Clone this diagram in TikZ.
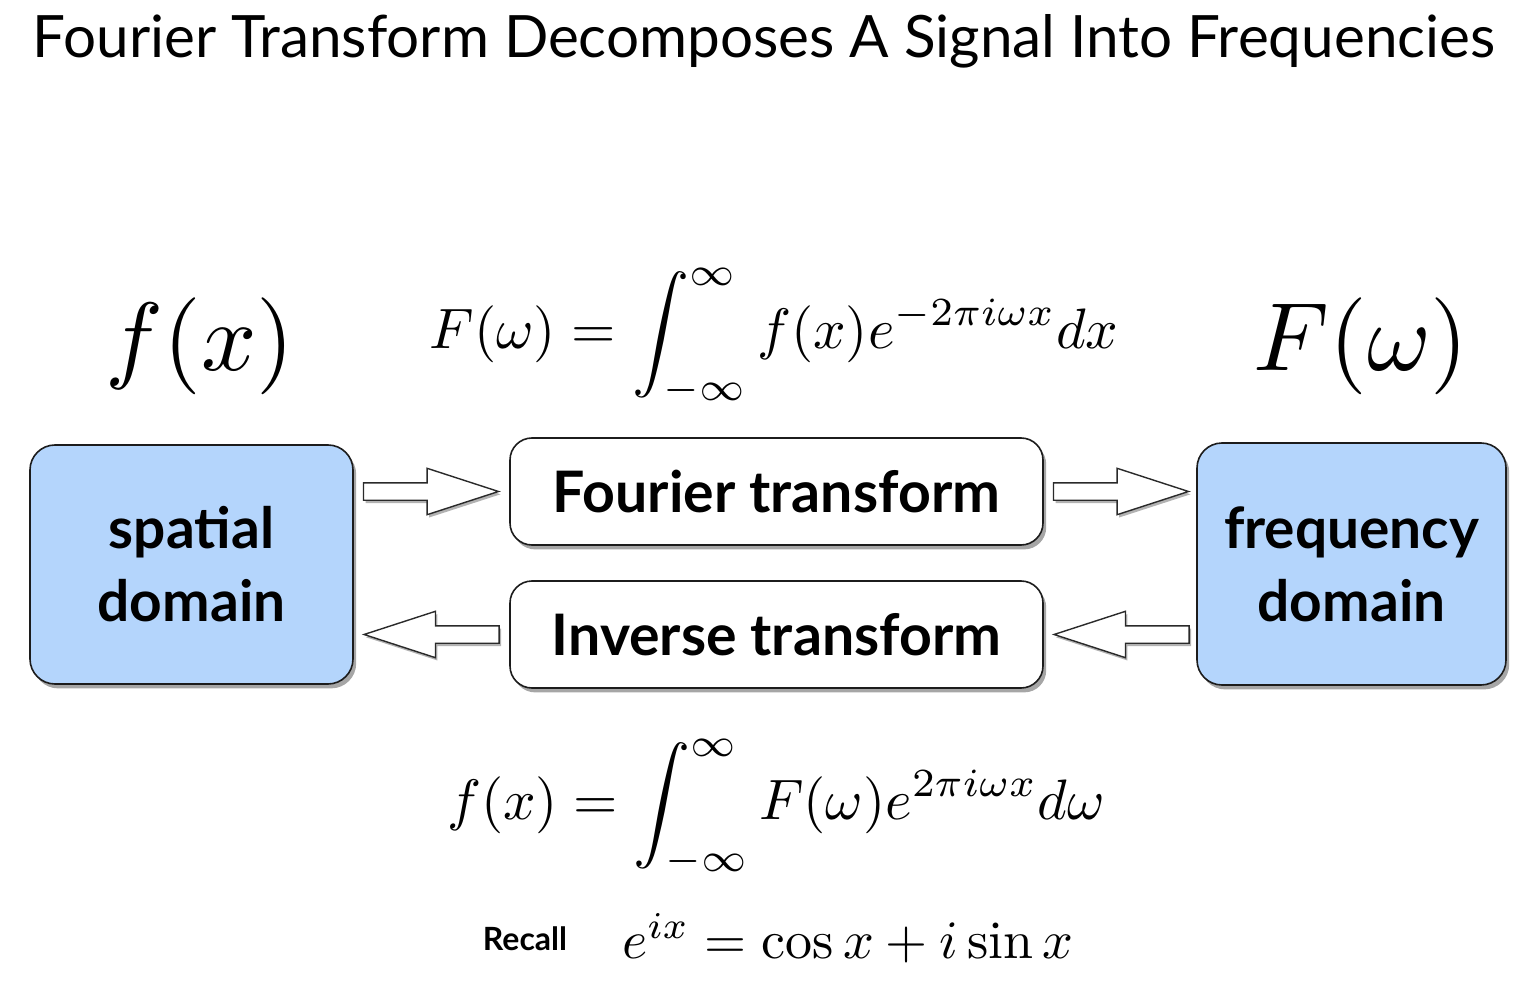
\documentclass[tikz,border=0pt]{standalone}
\usepackage{fontspec}
\usepackage{amsmath}
\usetikzlibrary{calc,positioning,shadows,shapes.arrows}
\newfontfamily\slidefont{Lato}
\definecolor{DomainBlue}{HTML}{B4D5FC}
\definecolor{BoxInk}{HTML}{1C1C1C}
\definecolor{ArrowInk}{HTML}{2A2A2A}

\tikzset{
  softshadow/.style={drop shadow={shadow xshift=1.6pt,shadow yshift=-2.2pt,
      opacity=.35,fill=black}},
  domainbox/.style={draw=BoxInk,line width=0.8pt,fill=DomainBlue,
    rounded corners=12.5pt,align=center,inner sep=0pt,softshadow,
    font={\slidefont\bfseries\fontsize{28.4}{36.5}\selectfont}},
  stagebox/.style={draw=BoxInk,line width=0.8pt,fill=white,
    rounded corners=11pt,inner sep=0pt,softshadow,
    minimum width=266.5pt,minimum height=53.5pt,
    font={\slidefont\bfseries\fontsize{28.6}{34}\selectfont}},
  fatarrow/.style={single arrow,draw=ArrowInk,line width=0.7pt,fill=white,
    inner xsep=0pt,inner ysep=4pt,single arrow head extend=7.25pt,
    single arrow tip angle=36,minimum height=67.5pt,
    drop shadow={shadow xshift=1pt,shadow yshift=-1.4pt,opacity=.3,fill=black}},
  mathlabel/.style={inner sep=0pt}
}

\begin{document}
\begin{tikzpicture}[x=0.5pt,y=-0.5pt]
  \useasboundingbox (0,0) rectangle (1529,988);
  % title
  \node[font={\slidefont\fontsize{29.2}{34}\selectfont}] (title) at (764,41)
    {Fourier Transform Decomposes A Signal Into Frequencies};
  % the four boxes
  \node[domainbox,minimum width=161.5pt,minimum height=119.5pt] (spatial)
    at (191.5,564.5) {spatial\\domain};
  \node[domainbox,minimum width=154.5pt,minimum height=121pt] (frequency)
    at (1351.5,564) {frequency\\domain};
  \node[stagebox] (fourier) at (776.5,491.5) {Fourier transform};
  \node[stagebox] (inverse) at (776.5,634.5) {Inverse transform};
  % block arrows between the boxes
  \node[fatarrow,anchor=tail] (toF) at ($(spatial.east |- fourier.west)+(9,0)$) {};
  \node[fatarrow,anchor=tail] (toW) at ($(fourier.east)+(9,0)$) {};
  \node[fatarrow,shape border rotate=180,anchor=tip] (backS)
    at ($(spatial.east |- inverse.west)+(8,0)$) {};
  \node[fatarrow,shape border rotate=180,anchor=tip] (backI)
    at ($(inverse.east)+(8,0)$) {};
  % formulas
  \node[mathlabel,scale=4.85] (fx) at (200,346) {$f(x)$};
  \node[mathlabel,scale=4.85] (Fw) at (1361,346) {$F(\omega)$};
  \node[mathlabel,scale=2.85] (fwdeq) at (774,337)
    {$\displaystyle F(\omega)=\int_{-\infty}^{\infty} f(x)e^{-2\pi i\omega x}dx$};
  \node[mathlabel,scale=2.85] (inveq) at (776,808)
    {$\displaystyle f(x)=\int_{-\infty}^{\infty} F(\omega)e^{2\pi i\omega x}d\omega$};
  \node[font={\slidefont\bfseries\fontsize{16}{18}\selectfont},anchor=base]
    (recall) at (525,950) {Recall};
  \node[mathlabel,scale=2.7,anchor=base] (euler) at (848,958)
    {$e^{ix}=\cos x+i\sin x$};
\end{tikzpicture}
\end{document}
